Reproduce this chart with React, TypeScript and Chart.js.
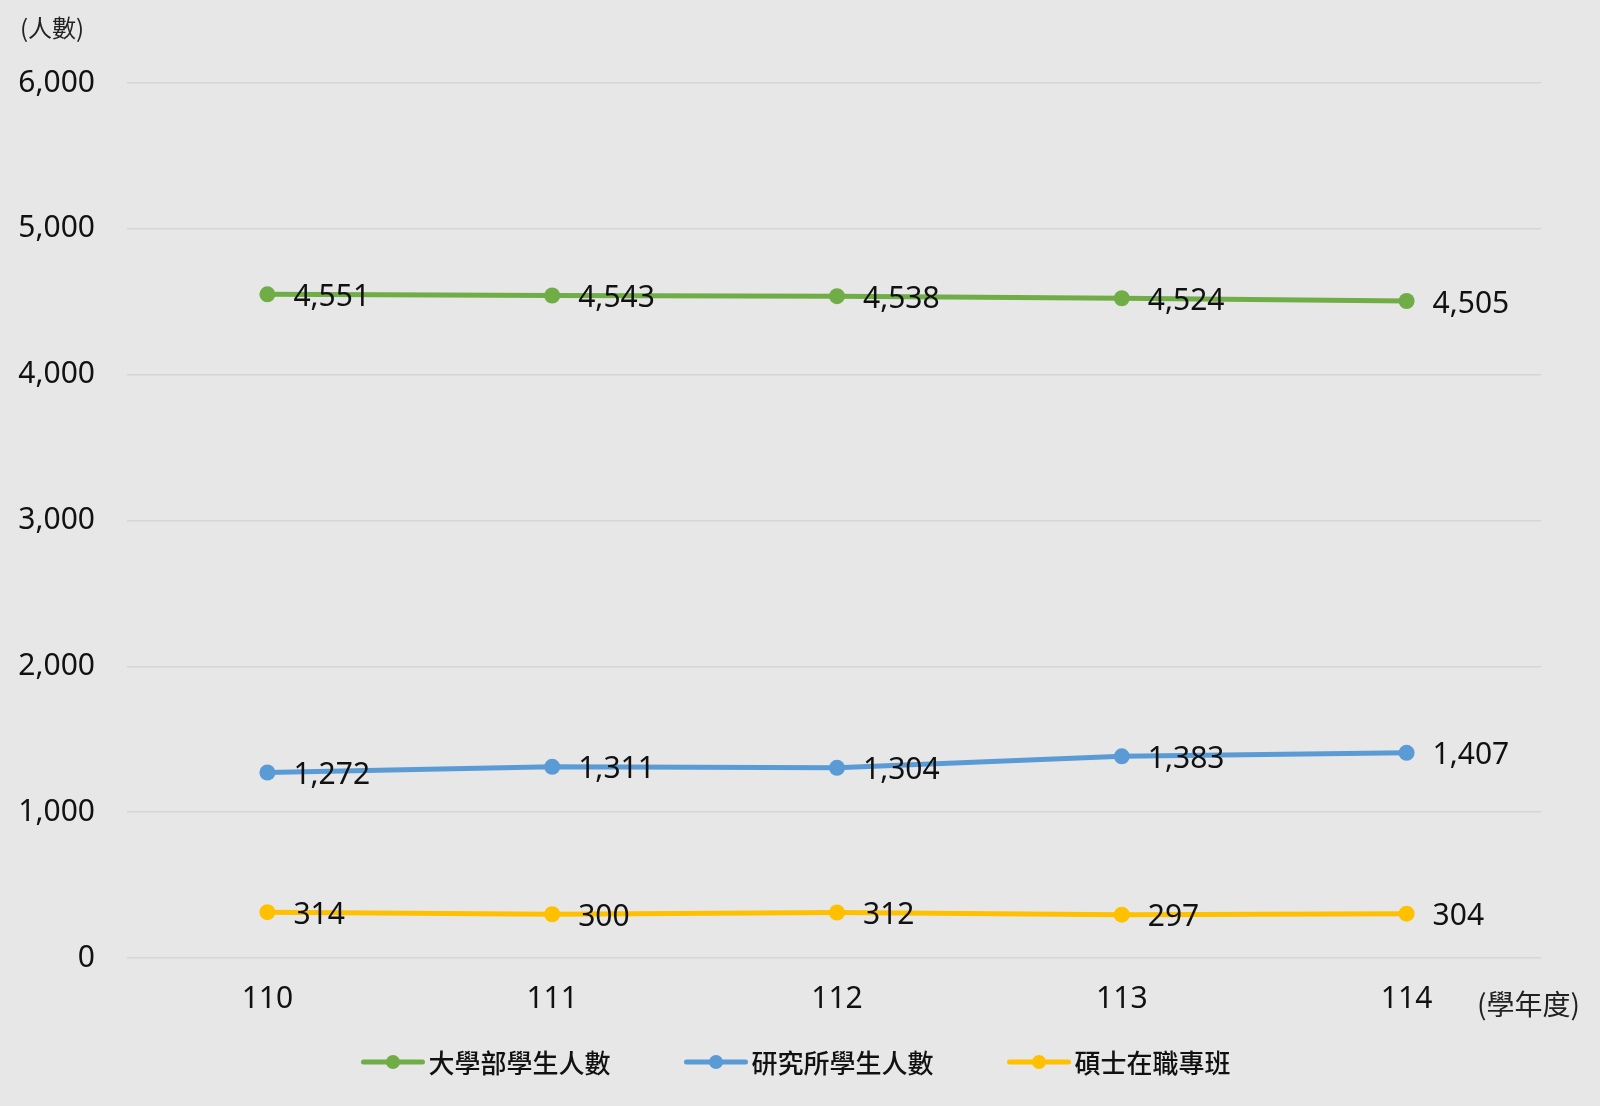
import React, { useRef, useEffect } from "react";
import Chart from "chart.js/auto";

const years = ["110", "111", "112", "113", "114"];
const undergrad = [4551, 4543, 4538, 4524, 4505];
const graduate = [1272, 1311, 1304, 1383, 1407];
const inService = [314, 300, 312, 297, 304];
const seriesNames = ["大學部學生人數", "研究所學生人數", "碩士在職專班"];
const seriesColors = ["#70ad47", "#5b9bd5", "#ffc000"];
const yTicks = [0, 1000, 2000, 3000, 4000, 5000, 6000];

const FONT = '"Noto Sans", "Noto Sans CJK TC", sans-serif';
const CJK = '"Noto Sans CJK TC", "Noto Sans", sans-serif';

const App: React.FC = () => {
  const chartRef = useRef<HTMLCanvasElement>(null);
  const chartInstance = useRef<Chart | null>(null);

  useEffect(() => {
    document.body.style.margin = "0";
    document.body.style.background = "#e7e7e7";
    if (chartInstance.current) {
      chartInstance.current.destroy();
    }
    const ctx = chartRef.current!.getContext("2d")!;

    // the category band is a little wider than the grid on the right
    const widenX = {
      id: "widenX",
      afterLayout(chart: any) {
        const xs = chart.scales.x;
        xs.left = 125;
        xs.right = 1549;
        xs.width = xs.right - xs.left;
        xs.configure();
      },
    };

    // value labels to the right of every point
    const valueLabels = {
      id: "valueLabels",
      afterDatasetsDraw(chart: any) {
        const c = chart.ctx;
        c.save();
        c.font = `30px ${FONT}`;
        c.fillStyle = "#111";
        c.textAlign = "left";
        c.textBaseline = "middle";
        chart.data.datasets.forEach((ds: any, i: number) => {
          chart.getDatasetMeta(i).data.forEach((pt: any, j: number) => {
            c.fillText(ds.data[j].toLocaleString("en-US"), pt.x + 26, pt.y + 3);
          });
        });
        c.restore();
      },
    };

    // axis titles and the legend
    const extras = {
      id: "extras",
      afterDraw(chart: any) {
        const c = chart.ctx;
        c.save();
        c.fillStyle = "#222";
        c.textBaseline = "middle";
        c.font = `24px ${CJK}`;
        c.textAlign = "left";
        c.fillText("(人數)", 20, 28);
        c.font = `28px ${CJK}`;
        c.fillText("(學年度)", 1477, 1004);

        c.font = `500 26px ${CJK}`;
        const lineW = 59;
        const gap = 6;
        const itemGap = 76;
        const widths = seriesNames.map((n) => c.measureText(n).width);
        const total =
          widths.reduce((a, w) => a + lineW + gap + w, 0) +
          itemGap * (seriesNames.length - 1);
        let x = 797 - total / 2;
        const y = 1062;
        seriesNames.forEach((name, i) => {
          c.strokeStyle = seriesColors[i];
          c.lineWidth = 5;
          c.lineCap = "round";
          c.beginPath();
          c.moveTo(x, y);
          c.lineTo(x + lineW, y);
          c.stroke();
          c.fillStyle = seriesColors[i];
          c.beginPath();
          c.arc(x + lineW / 2, y, 7, 0, Math.PI * 2);
          c.fill();
          c.fillStyle = "#111";
          c.fillText(name, x + lineW + gap, y + 1);
          x += lineW + gap + widths[i] + itemGap;
        });
        c.restore();
      },
    };

    const mk = (label: string, data: number[], color: string) => ({
      label,
      data,
      borderColor: color,
      backgroundColor: color,
      borderWidth: 5,
      pointRadius: 8,
      pointHoverRadius: 8,
      pointBorderWidth: 0,
      tension: 0,
    });

    chartInstance.current = new Chart(ctx, {
      type: "line",
      data: {
        labels: years,
        datasets: [
          mk(seriesNames[0], undergrad, seriesColors[0]),
          mk(seriesNames[1], graduate, seriesColors[1]),
          mk(seriesNames[2], inService, seriesColors[2]),
        ],
      },
      options: {
        animation: false,
        responsive: true,
        maintainAspectRatio: false,
        layout: { padding: { top: 83, right: 59, bottom: 78, left: 0 } },
        plugins: {
          legend: { display: false },
          tooltip: { enabled: false },
        },
        scales: {
          x: {
            offset: true,
            grid: { display: false },
            border: { display: false },
            ticks: {
              color: "#111",
              font: { family: FONT, size: 30 },
              padding: 15,
            },
            afterFit(scale: any) {
              scale.height = 70;
            },
          },
          y: {
            min: 0,
            max: 6000,
            afterBuildTicks(scale: any) {
              scale.ticks = yTicks.map((v) => ({ value: v }));
            },
            grid: { color: "#d6d6d6", lineWidth: 1.5, drawTicks: false },
            border: { display: false },
            ticks: {
              color: "#111",
              font: { family: FONT, size: 30 },
              padding: 32,
              callback: (v: any) => Number(v).toLocaleString("en-US"),
            },
            afterFit(scale: any) {
              scale.width = 127;
            },
          },
        },
      },
      plugins: [widenX, valueLabels, extras],
    });

    return () => {
      if (chartInstance.current) {
        chartInstance.current.destroy();
        chartInstance.current = null;
      }
    };
  }, []);

  return (
    <div style={{ width: 1600, height: 1106, background: "#e7e7e7" }}>
      <canvas ref={chartRef} />
    </div>
  );
};

export default App;
